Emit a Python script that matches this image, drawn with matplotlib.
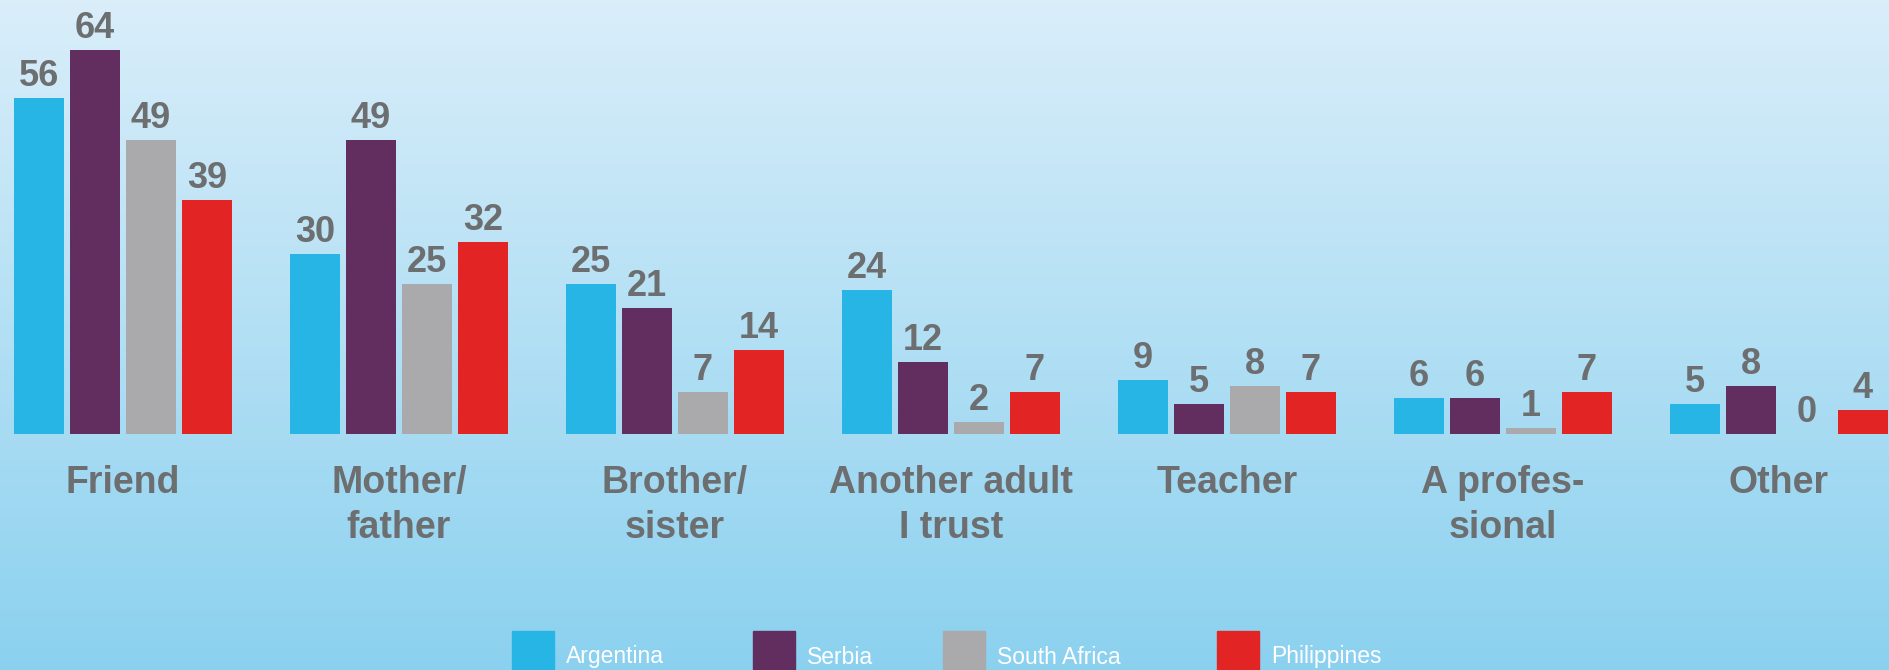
import numpy as np
import matplotlib
matplotlib.use("Agg")
import matplotlib.pyplot as plt
from matplotlib.patches import Rectangle

# data
categories = ["Friend", "Mother/\nfather", "Brother/\nsister", "Another adult\nI trust",
              "Teacher", "A profes-\nsional", "Other"]
countries = ["Argentina", "Serbia", "South Africa", "Philippines"]
argentina = [56, 30, 25, 24, 9, 6, 5]
serbia = [64, 49, 21, 12, 5, 6, 8]
south_africa = [49, 25, 7, 2, 8, 1, 0]
philippines = [39, 32, 14, 7, 7, 7, 4]

colors = ["#27b5e6", "#622d5f", "#aaaaac", "#e32425"]
text_grey = "#6c6e70"

W, H = 1889, 670
fig = plt.figure(figsize=(W / 100, H / 100), dpi=100)

# background gradient
bg = fig.add_axes([0, 0, 1, 1])
grad = np.linspace(0, 1, 256).reshape(-1, 1)
top = np.array([0.855, 0.933, 0.980])
bot = np.array([0.545, 0.820, 0.937])
img = top + (bot - top) * grad[:, :, None]
bg.imshow(img, aspect="auto", extent=[0, 1, 0, 1])
bg.axis("off")

ax = fig.add_axes([0, 0, 1, 1])
ax.patch.set_alpha(0)
ax.axis("off")

group_px = 276.0
px_unit = 6.0
base_px = 434
first_center = 123
ax.set_xlim(-first_center / group_px, (W - first_center) / group_px)
ax.set_ylim(-(H - base_px) / px_unit, base_px / px_unit)

width = 0.178
step = 0.203
x = np.arange(len(categories))
series = [argentina, serbia, south_africa, philippines]
for i, vals in enumerate(series):
    xs = x + (i - 1.5) * step
    ax.bar(xs, vals, width=width, color=colors[i], zorder=2)
    for xi, v in zip(xs, vals):
        ax.annotate(str(v), (xi, v), xytext=(0, 9), textcoords="offset points",
                    ha="center", va="baseline", fontsize=26, fontweight="bold",
                    color=text_grey, family="Liberation Sans")

for xi, lab in zip(x, categories):
    ax.annotate(lab, (xi, 0), xytext=(0, -22), textcoords="offset points",
                ha="center", va="top", fontsize=27, fontweight="bold",
                color=text_grey, family="Liberation Sans", linespacing=1.34)

# legend at bottom
leg_x = [512, 753, 943, 1217]
for lx, name, c in zip(leg_x, countries, colors):
    fig.add_artist(Rectangle((lx / W, 0), 42 / W, 39 / H, transform=fig.transFigure,
                             color=c, zorder=5))
    fig.text((lx + 54) / W, 13 / H, name, color="white", fontsize=16.5,
             family="Liberation Sans", va="center", ha="left")

fig.savefig("out.png", dpi=100)
